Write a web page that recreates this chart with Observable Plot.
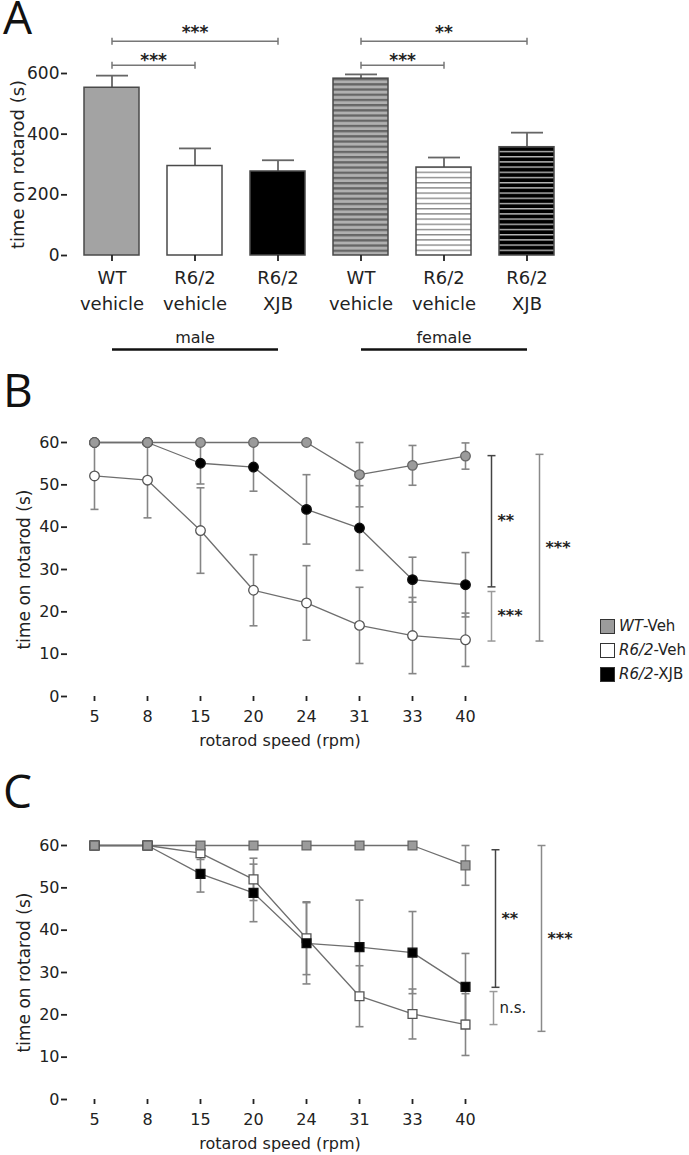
<!DOCTYPE html>
<html><head><meta charset="utf-8">
<script src="https://cdn.jsdelivr.net/npm/d3@7"></script>
<script src="https://cdn.jsdelivr.net/npm/@observablehq/plot@0.6"></script>
<style>
body{margin:0;background:#fff;}
#fig{position:relative;width:689px;height:1155px;overflow:hidden;font-family:"DejaVu Sans",sans-serif;color:#222;background:#fff;}
#fig svg{position:absolute;left:0;background:transparent;}
.letter{position:absolute;font-family:"Open Sans",sans-serif;font-size:46px;line-height:30px;height:34px;color:#111;}
.legend{position:absolute;left:600px;top:614px;font-size:15px;color:#222;white-space:nowrap;}
.legend .row{display:flex;align-items:center;height:24px;}
.legend .sw{width:13px;height:13px;border:1px solid #333;margin-right:4px;box-sizing:content-box;flex:none;}
</style></head>
<body>
<div id="fig"></div>
<script>
// ---------- Panel A data ----------
const barKeys = ["m-WT", "m-R6", "m-XJB", "f-WT", "f-R6", "f-XJB"];
const barTickLabels = ["WT\nvehicle", "R6/2\nvehicle", "R6/2\nXJB", "WT\nvehicle", "R6/2\nvehicle", "R6/2\nXJB"];
const barSex = ["male", "male", "male", "female", "female", "female"];
const barMeans = [553, 295, 277, 583, 290, 357];
const barSEM = [40, 58, 37, 14, 33, 48];
const sexGroups = ["male", "female"];
const sigA = [
  {from: "m-WT", to: "m-XJB", level: 706, label: "***", tier: "upper"},
  {from: "m-WT", to: "m-R6", level: 627, label: "***", tier: "lower"},
  {from: "f-WT", to: "f-XJB", level: 706, label: "**", tier: "upper"},
  {from: "f-WT", to: "f-R6", level: 627, label: "***", tier: "lower"}
];
const yTicksA = [0, 200, 400, 600];

// ---------- Panels B and C data ----------
const speeds = ["5", "8", "15", "20", "24", "31", "33", "40"];
const seriesNames = ["WT-Veh", "R6/2-Veh", "R6/2-XJB"];

const bWT = [60, 60, 60, 60, 60, 52.4, 54.6, 56.8];
const bWTerr = [0, 0, 0, 0, 0, 7.6, 4.7, 3.1];
const bR6 = [52.1, 51.1, 39.2, 25.1, 22.1, 16.8, 14.4, 13.4];
const bR6err = [7.9, 8.9, 10.1, 8.4, 8.8, 9.0, 9.0, 6.3];
const bXJB = [60, 60, 55.1, 54.2, 44.2, 39.8, 27.6, 26.4];
const bXJBerr = [0, 0, 4.9, 5.7, 8.2, 10.0, 5.3, 7.6];
const sigB = [
  {y1: 56.9, y2: 25.9, label: "**"},
  {y1: 24.8, y2: 13.1, label: "***"},
  {y1: 57.2, y2: 13.1, label: "***"}
];

const cWT = [60, 60, 60, 60, 60, 60, 60, 55.3];
const cWTerr = [0, 0, 0, 0, 0, 0, 0, 4.7];
const cR6 = [60, 60, 58.2, 52.0, 38.1, 24.4, 20.2, 17.7];
const cR6err = [0, 0, 1.5, 5.0, 8.6, 7.2, 5.9, 7.3];
const cXJB = [60, 60, 53.3, 48.8, 36.9, 36.0, 34.7, 26.6];
const cXJBerr = [0, 0, 4.3, 6.8, 9.6, 11.1, 9.7, 7.9];
const sigC = [
  {y1: 59.0, y2: 26.5, label: "**"},
  {y1: 25.5, y2: 17.7, label: "n.s."},
  {y1: 60.0, y2: 16.1, label: "***"}
];
const yTicksLine = [0, 10, 20, 30, 40, 50, 60];

// ---------- styles (kept apart from data) ----------
const FONT = "DejaVu Sans, sans-serif";
const barFill = {"m-WT": "#a3a3a3", "m-R6": "#ffffff", "m-XJB": "#000000",
  "f-WT": "url(#stripeGray)", "f-R6": "url(#stripeWhite)", "f-XJB": "url(#stripeBlack)"};
const seriesStyle = {
  "WT-Veh": {fill: "#9b9b9b", stroke: "#666"},
  "R6/2-Veh": {fill: "#ffffff", stroke: "#555"},
  "R6/2-XJB": {fill: "#000000", stroke: "#111"}
};
const drawOrder = ["R6/2-Veh", "R6/2-XJB", "WT-Veh"];
const sigTone = ["#444", "#9a9a9a", "#8a8a8a"];
const sigOffsetB = [26, 26, 74];
const sigOffsetC = [30, 28, 76];

const hCap = {draw(ctx, size) { const w = Math.sqrt(size / Math.PI); ctx.moveTo(-w, 0); ctx.lineTo(w, 0); }};
const vCap = {draw(ctx, size) { const w = Math.sqrt(size / Math.PI); ctx.moveTo(0, -w); ctx.lineTo(0, w); }};

const fig = document.getElementById("fig");

// ---------- Panel A ----------
const barData = barKeys.map((k, i) => ({key: k, label: barTickLabels[i], sex: barSex[i], mean: barMeans[i], sem: barSEM[i]}));
const labelOf = Object.fromEntries(barKeys.map((k, i) => [k, barTickLabels[i]]));
const groupData = sexGroups.map(s => {
  const ks = barKeys.filter((k, i) => barSex[i] === s);
  return {name: s, first: ks[0], mid: ks[Math.floor(ks.length / 2)], last: ks[ks.length - 1]};
});
const xOptsA = {domain: barKeys, type: "band", paddingInner: 0.34, paddingOuter: 0.2, range: [67, 571]};
const xsA = Plot.scale({x: xOptsA});
const halfStepA = (xsA.apply(barKeys[1]) - xsA.apply(barKeys[0])) / 2;

const plotA = Plot.plot({
  width: 689, height: 360, marginLeft: 67, marginRight: 118, marginTop: 73, marginBottom: 105,
  style: {fontFamily: FONT, color: "#222", background: "transparent"},
  x: {...xOptsA, axis: null},
  y: {domain: [0, 600], axis: null},
  color: {type: "identity"},
  marks: [
    Plot.link(barData, {x1: "key", x2: "key", y1: "mean", y2: d => d.mean + d.sem, stroke: "#666", strokeWidth: 1.8}),
    Plot.dot(barData, {x: "key", y: d => d.mean + d.sem, symbol: hCap, r: 16, fill: "none", stroke: "#666", strokeWidth: 1.8}),
    Plot.barY(barData, {x: "key", y: "mean", fill: d => barFill[d.key], stroke: "#4a4a4a", strokeWidth: 1.5}),
    Plot.axisY({ticks: yTicksA, tickSize: 6, tickPadding: 2, fontSize: 17, label: null, line: true, stroke: "#222", strokeWidth: 1.8}),
    Plot.axisX({tickFormat: k => labelOf[k], tickSize: 6, tickPadding: 5, fontSize: 18, lineHeight: 1.4, label: null, line: true, stroke: "#222", strokeWidth: 1.8}),
    Plot.text(["time on rotarod (s)"], {frameAnchor: "left", textAnchor: "middle", lineAnchor: "middle", rotate: -90, dx: -49, fontSize: 18, fill: "#222"}),
    // significance brackets
    Plot.link(sigA, {x1: "from", x2: "to", y1: "level", y2: "level", stroke: "#777", strokeWidth: 1.5}),
    Plot.dot(sigA, {x: "from", y: "level", symbol: vCap, r: 3.5, fill: "none", stroke: "#777", strokeWidth: 1.5}),
    Plot.dot(sigA, {x: "to", y: "level", symbol: vCap, r: 3.5, fill: "none", stroke: "#777", strokeWidth: 1.5}),
    Plot.text(sigA.filter(d => d.tier === "upper"), {x: d => {const a = barKeys.indexOf(d.from), b = barKeys.indexOf(d.to); return barKeys[(a + b) / 2];}, y: "level", text: "label", lineAnchor: "bottom", dy: -3, fontSize: 17, fontWeight: "bold", fill: "#222"}),
    Plot.text(sigA.filter(d => d.tier === "lower"), {x: "from", y: "level", text: "label", lineAnchor: "bottom", dx: halfStepA, dy: 1, fontSize: 17, fontWeight: "bold", fill: "#222"}),
    // sex groups
    Plot.text(groupData, {x: "mid", text: "name", frameAnchor: "bottom", textAnchor: "middle", lineAnchor: "middle", dy: 82, fontSize: 16, fill: "#222"}),
    Plot.link(groupData, {x1: "first", x2: "last", y1: 0, y2: 0, dy: 94, stroke: "#111", strokeWidth: 2.5})
  ]
});
plotA.style.top = "0px";
{
  const defs = d3.select(plotA).insert("defs", ":first-child");
  const mk = (id, bg, fg, h) => {
    const p = defs.append("pattern").attr("id", id).attr("patternUnits", "userSpaceOnUse").attr("width", 8).attr("height", 5.2);
    p.append("rect").attr("width", 8).attr("height", 5.2).attr("fill", bg);
    p.append("rect").attr("width", 8).attr("height", h).attr("fill", fg);
  };
  mk("stripeGray", "#b0b0b0", "#666666", 2.3);
  mk("stripeWhite", "#ffffff", "#8a8a8a", 1.4);
  mk("stripeBlack", "#000000", "#b8b8b8", 1.4);
}
fig.appendChild(plotA);

// ---------- Panels B and C ----------
function linePanel({top, means, errs, sig, sigOffset, symbol, r}) {
  const rows = [];
  seriesNames.forEach((s, si) => speeds.forEach((sp, i) => rows.push({series: s, speed: sp, value: means[si][i], err: errs[si][i]})));
  const last = speeds[speeds.length - 1];
  const sigRows = sig.map(d => ({...d, at: last}));
  const errRows = rows.filter(d => d.err > 0);
  const marks = [
    Plot.link(errRows, {x1: "speed", x2: "speed", y1: d => d.value - d.err, y2: d => d.value + d.err, stroke: "#858585", strokeWidth: 1.6}),
    Plot.dot(errRows, {x: "speed", y: d => d.value - d.err, symbol: hCap, r: 4, fill: "none", stroke: "#858585", strokeWidth: 1.6}),
    Plot.dot(errRows, {x: "speed", y: d => d.value + d.err, symbol: hCap, r: 4, fill: "none", stroke: "#858585", strokeWidth: 1.6})
  ];
  drawOrder.forEach(s => {
    marks.push(Plot.line(rows.filter(d => d.series === s), {x: "speed", y: "value", stroke: "#6e6e6e", strokeWidth: 1.3}));
  });
  drawOrder.forEach(s => {
    marks.push(Plot.dot(rows.filter(d => d.series === s), {x: "speed", y: "value", symbol, r, fill: seriesStyle[s].fill, stroke: seriesStyle[s].stroke, strokeWidth: 1.3}));
  });
  sigRows.forEach((d, i) => {
    const o = {stroke: sigTone[i], strokeWidth: 1.5, dx: sigOffset[i]};
    marks.push(Plot.link([d], {x1: "at", x2: "at", y1: "y1", y2: "y2", ...o}));
    marks.push(Plot.dot([d], {x: "at", y: "y1", symbol: hCap, r: 4, fill: "none", ...o}));
    marks.push(Plot.dot([d], {x: "at", y: "y2", symbol: hCap, r: 4, fill: "none", ...o}));
    marks.push(Plot.text([d], {x: "at", y: e => (e.y1 + e.y2) / 2, text: "label", textAnchor: "start", dx: sigOffset[i] + 6,
      fontSize: d.label === "n.s." ? 15 : 16, fontWeight: d.label === "n.s." ? "normal" : "bold", fill: "#222"}));
  });
  marks.push(
    Plot.axisY({ticks: yTicksLine, tickSize: 6, tickPadding: 2, fontSize: 16, label: null, line: true, stroke: "#222", strokeWidth: 1.8}),
    Plot.axisX({tickSize: 5, tickPadding: 9, fontSize: 16, label: null, line: true, stroke: "#222", strokeWidth: 1.8}),
    Plot.text(["time on rotarod (s)"], {frameAnchor: "left", textAnchor: "middle", lineAnchor: "middle", rotate: -90, dx: -43, fontSize: 17, fill: "#222"}),
    Plot.text(["rotarod speed (rpm)"], {frameAnchor: "bottom", textAnchor: "middle", lineAnchor: "middle", dy: 44, fontSize: 16, fill: "#222"})
  );
  const p = Plot.plot({
    width: 689, height: 342, marginLeft: 67, marginRight: 197, marginTop: 32, marginBottom: 56,
    style: {fontFamily: FONT, color: "#222", background: "transparent"},
    x: {domain: speeds, type: "point", padding: 0.5, axis: null},
    y: {domain: [0, 60], axis: null},
    marks
  });
  p.style.top = top + "px";
  fig.appendChild(p);
}

linePanel({top: 410, means: [bWT, bR6, bXJB], errs: [bWTerr, bR6err, bXJBerr], sig: sigB, sigOffset: sigOffsetB, symbol: "circle", r: 4.8});
linePanel({top: 813, means: [cWT, cR6, cXJB], errs: [cWTerr, cR6err, cXJBerr], sig: sigC, sigOffset: sigOffsetC, symbol: "square", r: 5});

// ---------- legend ----------
const legend = document.createElement("div");
legend.className = "legend";
const legendParts = {"WT-Veh": ["WT", "-Veh"], "R6/2-Veh": ["R6/2", "-Veh"], "R6/2-XJB": ["R6/2", "-XJB"]};
seriesNames.forEach(s => {
  const row = document.createElement("div"); row.className = "row";
  const sw = document.createElement("div"); sw.className = "sw"; sw.style.background = seriesStyle[s].fill;
  const t = document.createElement("span");
  const it = document.createElement("i"); it.textContent = legendParts[s][0];
  t.appendChild(it); t.appendChild(document.createTextNode(legendParts[s][1]));
  row.appendChild(sw); row.appendChild(t); legend.appendChild(row);
});
fig.appendChild(legend);

// ---------- panel letters ----------
[["A", 1], ["B", 374], ["C", 775]].forEach(([t, y]) => {
  const d = document.createElement("div"); d.className = "letter"; d.textContent = t;
  d.style.left = "3px"; d.style.top = y + "px"; fig.appendChild(d);
});
</script>
</body></html>
